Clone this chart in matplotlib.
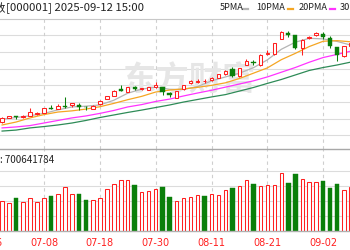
import numpy as np
import matplotlib
matplotlib.use('Agg')
import matplotlib.pyplot as plt
from matplotlib.lines import Line2D

plt.rcParams['font.family'] = ['Noto Sans CJK SC', 'DejaVu Sans']

# ---- data (上证指数 daily, 06-30 .. 09-08) ----
dates = ['06-30', '07-01', '07-02', '07-03', '07-04', '07-07', '07-08', '07-09',
         '07-10', '07-11', '07-14', '07-15', '07-16', '07-17', '07-18', '07-21',
         '07-22', '07-23', '07-24', '07-25', '07-28', '07-29', '07-30', '07-31',
         '08-01', '08-04', '08-05', '08-06', '08-07', '08-08', '08-11', '08-12',
         '08-13', '08-14', '08-15', '08-18', '08-19', '08-20', '08-21', '08-22',
         '08-25', '08-26', '08-27', '08-28', '08-29', '09-01', '09-02', '09-03',
         '09-04', '09-05', '09-08']
opens = [3422, 3445, 3453, 3448, 3455, 3461, 3470, 3492, 3487, 3504, 3511, 3511, 3501,
         3491, 3512, 3538, 3555, 3589, 3574, 3601, 3590, 3585, 3599, 3599, 3572, 3547,
         3588, 3619, 3626, 3629, 3634, 3647, 3667, 3690, 3657, 3713, 3728, 3715, 3769,
         3769, 3844, 3874, 3866, 3800, 3851, 3868, 3871, 3853, 3805, 3761, 3810]
highs = [3448, 3455, 3454, 3456, 3492, 3471, 3494, 3509, 3514, 3551, 3519, 3519, 3502,
         3507, 3532, 3555, 3584, 3611, 3601, 3606, 3598, 3603, 3628, 3602, 3574, 3582,
         3613, 3636, 3640, 3644, 3652, 3667, 3687, 3705, 3698, 3742, 3736, 3769, 3787,
         3825, 3884, 3885, 3868, 3843, 3863, 3881, 3879, 3861, 3807, 3812, 3830]
lows = [3417, 3443, 3437, 3445, 3453, 3459, 3468, 3486, 3486, 3496, 3501, 3483, 3483,
        3489, 3511, 3537, 3553, 3580, 3573, 3585, 3585, 3584, 3594, 3560, 3551, 3543,
        3585, 3616, 3620, 3621, 3631, 3645, 3664, 3653, 3654, 3711, 3713, 3710, 3764,
        3766, 3843, 3858, 3797, 3764, 3846, 3863, 3848, 3800, 3733, 3754, 3805]
closes = [3445, 3453, 3448, 3454, 3471, 3467, 3492, 3487, 3504, 3497, 3517, 3499, 3497,
          3506, 3529, 3553, 3582, 3582, 3599, 3592, 3595, 3602, 3611, 3577, 3560, 3580,
          3611, 3633, 3633, 3632, 3649, 3665, 3682, 3659, 3696, 3733, 3723, 3766, 3775,
          3824, 3880, 3867, 3800, 3840, 3858, 3874, 3857, 3812, 3764, 3810, 3826]
# volume, 亿手
volume = [3.96, 3.80, 4.36, 3.83, 4.36, 3.84, 4.36, 4.64, 4.93, 5.83, 4.93, 4.97, 4.11,
          4.07, 4.37, 5.56, 6.27, 6.77, 6.77, 6.20, 5.17, 5.31, 5.57, 5.83, 4.51, 4.03,
          4.36, 4.56, 4.77, 4.67, 4.89, 4.76, 5.47, 5.73, 5.96, 6.80, 6.23, 5.96, 6.09,
          6.17, 7.69, 6.44, 7.60, 6.91, 6.51, 6.51, 6.69, 5.73, 6.27, 5.47, 5.87]
# sessions whose volume bar is drawn green
vol_green = [2, 7, 11, 12, 19, 23, 24, 29, 33, 36, 41, 42, 46, 47, 48]

# moving averages, read every second session (index 0, 2, 4 ...)
ma_idx = list(range(0, 51, 2))
ma5 = [3437, 3445, 3454, 3466, 3484, 3499, 3503, 3509, 3533, 3569, 3590, 3600, 3589,
       3588, 3603, 3632, 3652, 3671, 3699, 3739, 3793, 3829, 3849, 3846, 3833, 3814]
ma10 = [3407, 3422, 3443, 3460, 3473, 3479, 3488, 3500, 3517, 3536, 3553, 3575, 3585,
        3591, 3599, 3609, 3622, 3644, 3671, 3698, 3740, 3772, 3807, 3834, 3837, 3831]
ma20 = [3392, 3397, 3404, 3417, 3430, 3443, 3453, 3466, 3481, 3499, 3511, 3527, 3539,
        3555, 3570, 3584, 3600, 3616, 3632, 3652, 3676, 3700, 3727, 3751, 3767, 3784]
ma30 = [3376, 3381, 3392, 3399, 3407, 3417, 3430, 3445, 3458, 3471, 3483, 3496, 3509,
        3524, 3537, 3550, 3562, 3580, 3598, 3619, 3639, 3662, 3685, 3700, 3713, 3728]

label_dates = ['07-08', '07-18', '07-30', '08-11', '08-21', '09-02']
last_volume = '700641784'

RED = '#ff2020'
GREEN = '#0a7f0a'
GRID = '#dcdcdc'
MA_COLORS = ['#b4b4b4', '#f5a623', '#ff33ff', '#2e8b57']

x = np.arange(len(dates))
o, h, l, c = map(np.array, (opens, highs, lows, closes))

W, H = 350, 250
fig = plt.figure(figsize=(3.5, 2.5), dpi=100)
ax = fig.add_axes([0, 1 - 149 / H, 1, 130.5 / H])
axv = fig.add_axes([0, 1 - 231 / H, 1, 82 / H])

# ---- price panel ----
ax.set_xlim(-0.3, 49.84)
ax.set_ylim(3284.5, 3950)
for yv in np.arange(3355, 3950, 85):
    ax.axhline(yv, color=GRID, lw=0.8, zorder=0)
ax.text(0.54, 0.52, '东方财富', transform=ax.transAxes, ha='center', va='center',
        fontsize=24, fontweight='bold', color='#e6e6e6', zorder=0.5)

up = c >= o
ax.vlines(x, l, h, colors=np.where(up, RED, GREEN), lw=0.75, zorder=2)
body = np.maximum(np.abs(c - o), 0.8)
ax.bar(x[up], body[up], bottom=np.minimum(o, c)[up], width=0.5,
       facecolor='white', edgecolor=RED, lw=0.75, zorder=3)
ax.bar(x[~up], body[~up], bottom=np.minimum(o, c)[~up], width=0.62,
       facecolor=GREEN, edgecolor=GREEN, lw=0.3, zorder=3)

for vals, col in zip((ma5, ma10, ma20, ma30), MA_COLORS):
    ax.plot(ma_idx, vals, color=col, lw=0.9, zorder=1.5)

ax.set_xticks([])
ax.set_yticks([])
for s in ('left', 'right', 'bottom'):
    ax.spines[s].set_visible(False)
ax.spines['top'].set_color('#c8c8c8')
ax.spines['top'].set_linewidth(0.8)

# ---- volume panel ----
axv.set_xlim(-0.3, 49.84)
axv.set_ylim(0, 82 / 7.5)
for yv in (2, 4, 6, 8):
    axv.axhline(yv, color=GRID, lw=0.8, zorder=0)
vol = np.array(volume)
is_green = np.zeros(len(vol), bool)
is_green[vol_green] = True
axv.bar(x[~is_green], vol[~is_green], width=0.5, facecolor='white',
        edgecolor=RED, lw=0.75, zorder=2)
axv.bar(x[is_green], vol[is_green], width=0.64, facecolor=GREEN,
        edgecolor=GREEN, lw=0.3, zorder=2)
for s in ('left', 'right'):
    axv.spines[s].set_visible(False)
axv.spines['top'].set_color('#a8a8a8')
axv.spines['top'].set_linewidth(1.0)
axv.spines['bottom'].set_color('#b0b0b0')
axv.spines['bottom'].set_linewidth(1.0)
axv.set_yticks([])

tick_pos = [dates.index(d) for d in label_dates]
axv.set_xticks(tick_pos)
axv.set_xticklabels(label_dates, color=RED, fontsize=7, family='DejaVu Sans')
axv.tick_params(axis='x', length=0, pad=5)
# first label sits off the left edge
axv.text(-2, -0.15, '06-26', transform=axv.get_xaxis_transform(), ha='center',
         va='center', color=RED, fontsize=7, family='DejaVu Sans', clip_on=False)

for a in (ax, axv):
    for p in tick_pos:
        a.axvline(p, color='#cfcfcf', lw=0.8, ls=(0, (3, 3)), zorder=0.2)

# ---- header / legend ----
hy = 1 - 8 / H
fig.text(6 / W, hy, '上证指数', fontsize=8.2, va='center', ha='right', color='#222222')
fig.text(6 / W, hy, '[000001] 2025-09-12 15:00', fontsize=8.2, va='center',
         ha='left', color='#222222')

legend = [('5PMA', 220, 243), ('10PMA', 256, 288), ('20PMA', 299, 330),
          ('30PMA', 340, 372)]
for (name, tx, dx), col in zip(legend, MA_COLORS):
    fig.text(tx / W, hy, name, fontsize=6.6, va='center', ha='left', color='#222222')
    fig.add_artist(Line2D([dx / W, (dx + 5) / W], [1 - 9 / H] * 2, color=col,
                          lw=1.6, transform=fig.transFigure))

vy = 1 - 160 / H
fig.text(-0.5 / W, vy, '成交量', fontsize=7, va='center', ha='right', color='#222222')
fig.text(-0.5 / W, vy, ': ' + last_volume, fontsize=7, va='center', ha='left',
         color='#222222')

fig.savefig('out.png', dpi=100)
